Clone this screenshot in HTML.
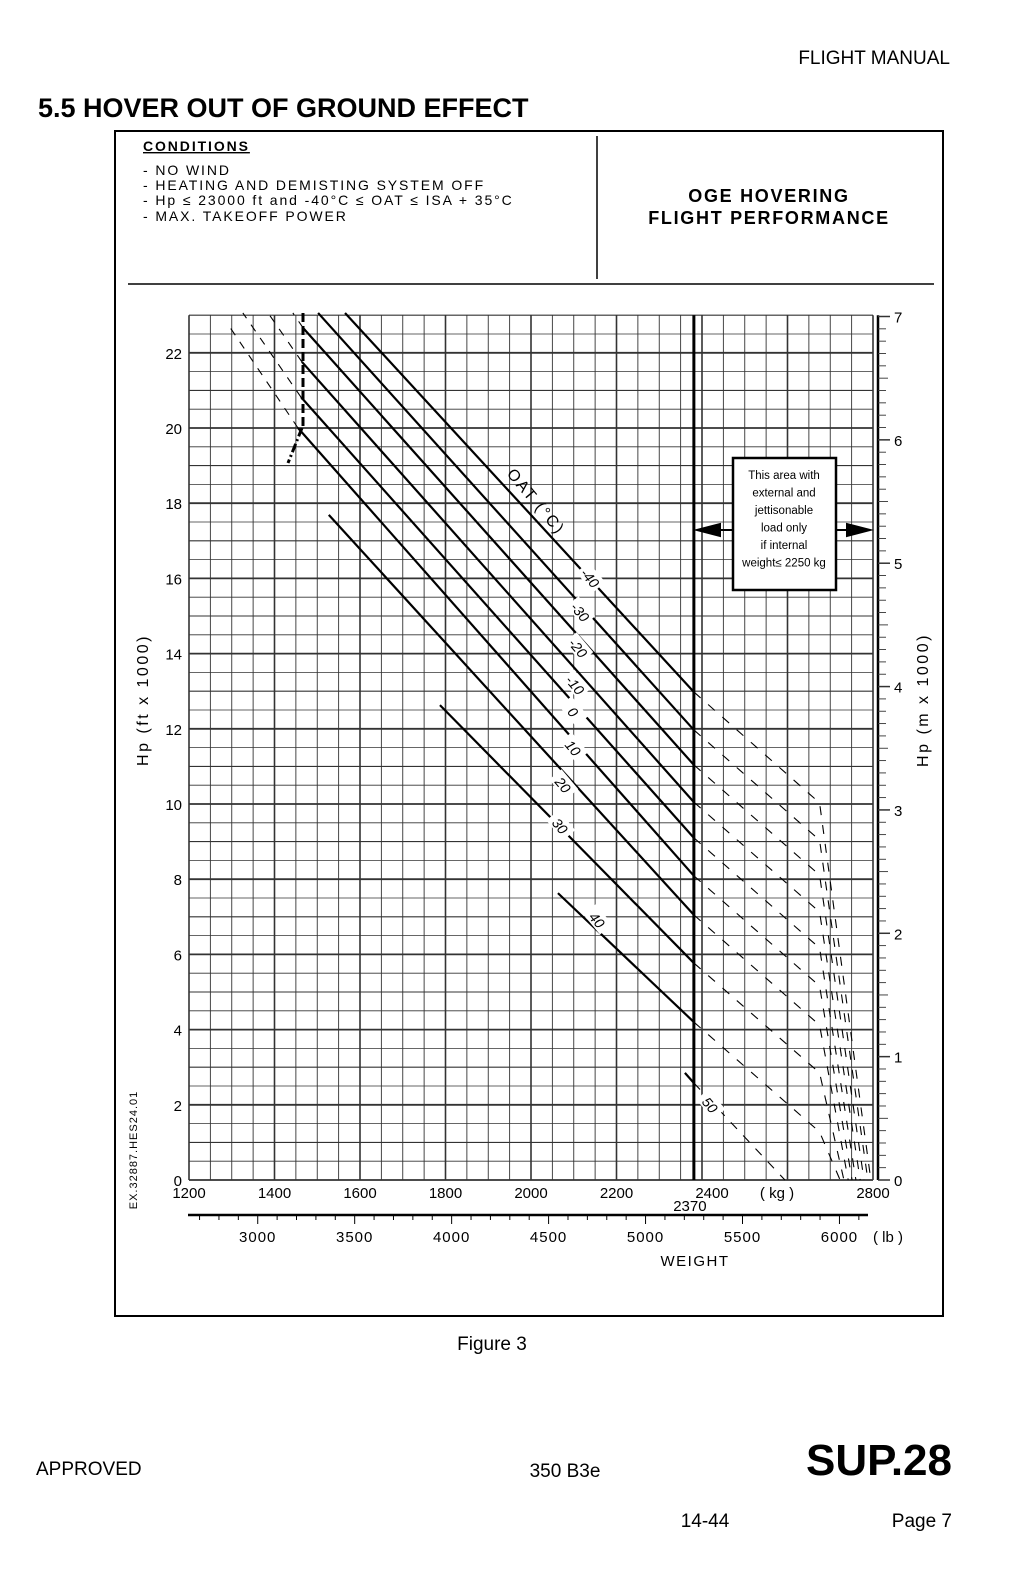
<!DOCTYPE html>
<html><head><meta charset="utf-8"><style>
html,body{margin:0;padding:0;background:#fff;}
svg{display:block;font-family:"Liberation Sans",sans-serif;}
</style></head><body>
<svg id="page" width="1031" height="1572" viewBox="0 0 1031 1572" xmlns="http://www.w3.org/2000/svg">
<text x="950" y="64" font-size="19" text-anchor="end">FLIGHT MANUAL</text>
<text x="38" y="117" font-size="27" font-weight="bold">5.5  HOVER OUT OF GROUND EFFECT</text>
<rect x="115" y="131" width="828" height="1185" fill="none" stroke="#000" stroke-width="2"/>
<line x1="128" y1="284" x2="934" y2="284" stroke="#000" stroke-width="1.5"/>
<line x1="597" y1="136" x2="597" y2="279" stroke="#000" stroke-width="1.5"/>
<g font-size="14" letter-spacing="1.9">
<text x="143" y="151" font-weight="bold" text-decoration="underline">CONDITIONS</text>
<text x="143" y="175">- NO WIND</text>
<text x="143" y="190">- HEATING AND DEMISTING SYSTEM OFF</text>
<text x="143" y="205">- Hp ≤ 23000 ft and  -40°C ≤ OAT ≤ ISA + 35°C</text>
<text x="143" y="221">- MAX. TAKEOFF POWER</text>
</g>
<g font-size="18" font-weight="bold" text-anchor="middle" letter-spacing="1.7">
<text x="769" y="202">OGE HOVERING</text>
<text x="769" y="224">FLIGHT PERFORMANCE</text>
</g>
<g id="chart"></g>
<text x="492" y="1350" font-size="19" text-anchor="middle">Figure 3</text>
<text x="36" y="1475" font-size="19">APPROVED</text>
<text x="565" y="1477" font-size="19" text-anchor="middle">350 B3e</text>
<text x="952" y="1475" font-size="44" font-weight="bold" text-anchor="end">SUP.28</text>
<text x="705" y="1527" font-size="19" text-anchor="middle">14-44</text>
<text x="952" y="1527" font-size="19" text-anchor="end">Page 7</text>
</svg>
<script>
const oatLabels=["-40","-30","-20","-10","0","10","20","30","40"];
const startKg=[1565,1502,1467,1464,1462,1455,1527,1787,2063];
const startFt=[23060,23060,22660,21760,20820,20000,17690,12630,7630];
const endFt=[12980,11970,11040,10050,9100,8090,7050,5770,4200];
const bendFt=[10030,9040,8110,7130,6170,5160,4120,2850,1280];
const zeroKg=[2795,2788,2779,2770,2760,2751,2742,2732,2723];
const limitKg=2381, bendKg=2675;
const upKg=[null,null,1443,1385,1326,1289,null,null,null];
const upFt=[null,null,23060,23060,23060,22790,null,null,null];
const ftTicks=[0,2,4,6,8,10,12,14,16,18,20,22];
const mTicks=[0,1,2,3,4,5,6,7];
const kgTicks=[1200,1400,1600,1800,2000,2200,2400,2800];
const lbTicks=[3000,3500,4000,4500,5000,5500,6000];

const X=kg=>189+(kg-1200)*0.4275;
const Y=ft=>1180-ft*0.0376;
const NS="http://www.w3.org/2000/svg";
const g=document.getElementById('chart');
function mk(t,a,p){const e=document.createElementNS(NS,t);for(const k in a)e.setAttribute(k,a[k]);(p||g).appendChild(e);return e;}

for(let kg=1200;kg<=2800;kg+=50){
  const l=mk('line',{x1:X(kg),y1:Y(0),x2:X(kg),y2:Y(23000),stroke:'#333','stroke-width':kg%200===0?1.6:0.9});
  
  
}
for(let ft=0;ft<=23000;ft+=500){
  const l=mk('line',{x1:X(1200),y1:Y(ft),x2:X(2800),y2:Y(ft),stroke:'#333','stroke-width':ft%2000===0?1.8:(ft%1000===0?1.1:0.8)});
  
  
}
ftTicks.forEach(v=>{const t=mk('text',{x:182,y:Y(v*1000)+6,'font-size':15,'text-anchor':'end'});t.textContent=v;
 });
const yt=mk('text',{x:0,y:0,'font-size':16,'letter-spacing':'2.5','text-anchor':'middle',transform:'translate(148,700) rotate(-90)'});
yt.textContent='Hp  (ft x 1000)';

const ra=mk('line',{x1:878,y1:Y(0),x2:878,y2:Y(23000),stroke:'#000','stroke-width':2.5});

for(let m=0;m<=7000;m+=100){const y=Y(m*3.2808);if(y<Y(23100))break;
 const major=m%1000===0;mk('line',{x1:878,y1:y,x2:major?890:(m%500===0?888:886),y2:y,stroke:'#333','stroke-width':major?1.5:0.9});}
mTicks.forEach(v=>{const t=mk('text',{x:894,y:Y(v*3280.8)+6,'font-size':15});t.textContent=v;
 });
const yt2=mk('text',{x:0,y:0,'font-size':16,'letter-spacing':'2.5','text-anchor':'middle',transform:'translate(928,700) rotate(-90)'});
yt2.textContent='Hp  (m x 1000)';

kgTicks.forEach(v=>{const t=mk('text',{x:X(v)+(v===2400?10:0),y:1198,'font-size':15,'text-anchor':'middle'});t.textContent=v;
 });
const ku=mk('text',{x:777,y:1198,'font-size':15,'text-anchor':'middle'});ku.textContent='( kg )';

const kl=mk('text',{x:X(limitKg)-4,y:1211,'font-size':15,'text-anchor':'middle'});kl.textContent='2370';

const la=mk('line',{x1:188,y1:1215,x2:868,y2:1215,stroke:'#000','stroke-width':2.5});

for(let lb=2700;lb<=6150;lb+=100){const x=X(lb*0.45359);if(x<188||x>868)continue;mk('line',{x1:x,y1:1215,x2:x,y2:lb%500===0?1224:1220,stroke:'#000','stroke-width':1});}
lbTicks.forEach(v=>{const t=mk('text',{x:X(v*0.45359),y:1242,'font-size':15,'text-anchor':'middle','letter-spacing':1});t.textContent=v;
 });
const lu=mk('text',{x:888,y:1242,'font-size':15,'text-anchor':'middle'});lu.textContent='( lb )';

const wt=mk('text',{x:695,y:1266,'font-size':15,'text-anchor':'middle','letter-spacing':1.5});wt.textContent='WEIGHT';

const ex=mk('text',{x:0,y:0,'font-size':11,'letter-spacing':1,'text-anchor':'middle',transform:'translate(137,1150) rotate(-90)'});ex.textContent='EX.32887.HES24.01';

const ml=mk('line',{x1:X(limitKg),y1:Y(0),x2:X(limitKg),y2:Y(23000),stroke:'#000','stroke-width':3});

const bd=mk('path',{d:`M303 313 L303 ${Y(20000)}`,stroke:'#000','stroke-width':3,'stroke-dasharray':'9 4',fill:'none'});

const bd2=mk('path',{d:`M302 ${Y(20000)} L288 463`,stroke:'#000','stroke-width':3,'stroke-dasharray':'9 3 2 3',fill:'none'});

oatLabels.forEach((lab,i)=>{
 const s=mk('line',{x1:X(startKg[i]),y1:Y(startFt[i]),x2:X(limitKg),y2:Y(endFt[i]),stroke:'#000','stroke-width':2.2});
 
 const d=mk('polyline',{points:`${X(limitKg)},${Y(endFt[i])} ${X(bendKg)},${Y(bendFt[i])} ${X(zeroKg[i])},${Y(0)}`,stroke:'#000','stroke-width':1.1,'stroke-dasharray':'9 10',fill:'none'});
 
 if(upKg[i]!==null){const u=mk('line',{x1:X(startKg[i]),y1:Y(startFt[i]),x2:X(upKg[i]),y2:Y(upFt[i]),stroke:'#000','stroke-width':1.1,'stroke-dasharray':'8 8'});
  }
});
const l50=mk('line',{x1:X(2360),y1:Y(2850),x2:X(limitKg),y2:Y(2580),stroke:'#000','stroke-width':2.2});

const d50=mk('line',{x1:X(limitKg),y1:Y(2580),x2:X(2594),y2:Y(0),stroke:'#000','stroke-width':1.1,'stroke-dasharray':'9 9'});

const labPos=[[590,578],[580,612],[578,648],[575,685],[573,712],[573,748],[563,785],[560,826],[597,920],[710,1105]];
const labs=oatLabels.concat(["50"]);
labs.forEach((lab,i)=>{const [x,y]=labPos[i];
 mk('rect',{x:x-13,y:y-9,width:26,height:16,fill:'#fff',transform:`rotate(50 ${x} ${y})`});
 const t=mk('text',{x:x,y:y+5,'font-size':14,'font-style':'italic','text-anchor':'middle',transform:`rotate(50 ${x} ${y})`});t.textContent=lab;
 });
const oat=mk('text',{x:532,y:505,'font-size':16,'text-anchor':'middle','letter-spacing':2,transform:'rotate(50 532 505)'});oat.textContent='OAT (°C)';

const bx=mk('rect',{x:733,y:458,width:103,height:132,fill:'#fff',stroke:'#000','stroke-width':2.5});

["This area with","external and","jettisonable","load only","if internal","weight≤ 2250 kg"].forEach((s,i)=>{
 const t=mk('text',{x:784,y:479+i*17.5,'font-size':11.5,'text-anchor':'middle'});t.textContent=s;
 });
const a1=mk('path',{d:'M697 530 L733 530 M697 530 L720 524 L720 536 Z',stroke:'#000','stroke-width':2,fill:'#000'});

const a2=mk('path',{d:'M836 530 L870 530 M870 530 L847 524 L847 536 Z',stroke:'#000','stroke-width':2,fill:'#000'});

</script>
</body></html>
